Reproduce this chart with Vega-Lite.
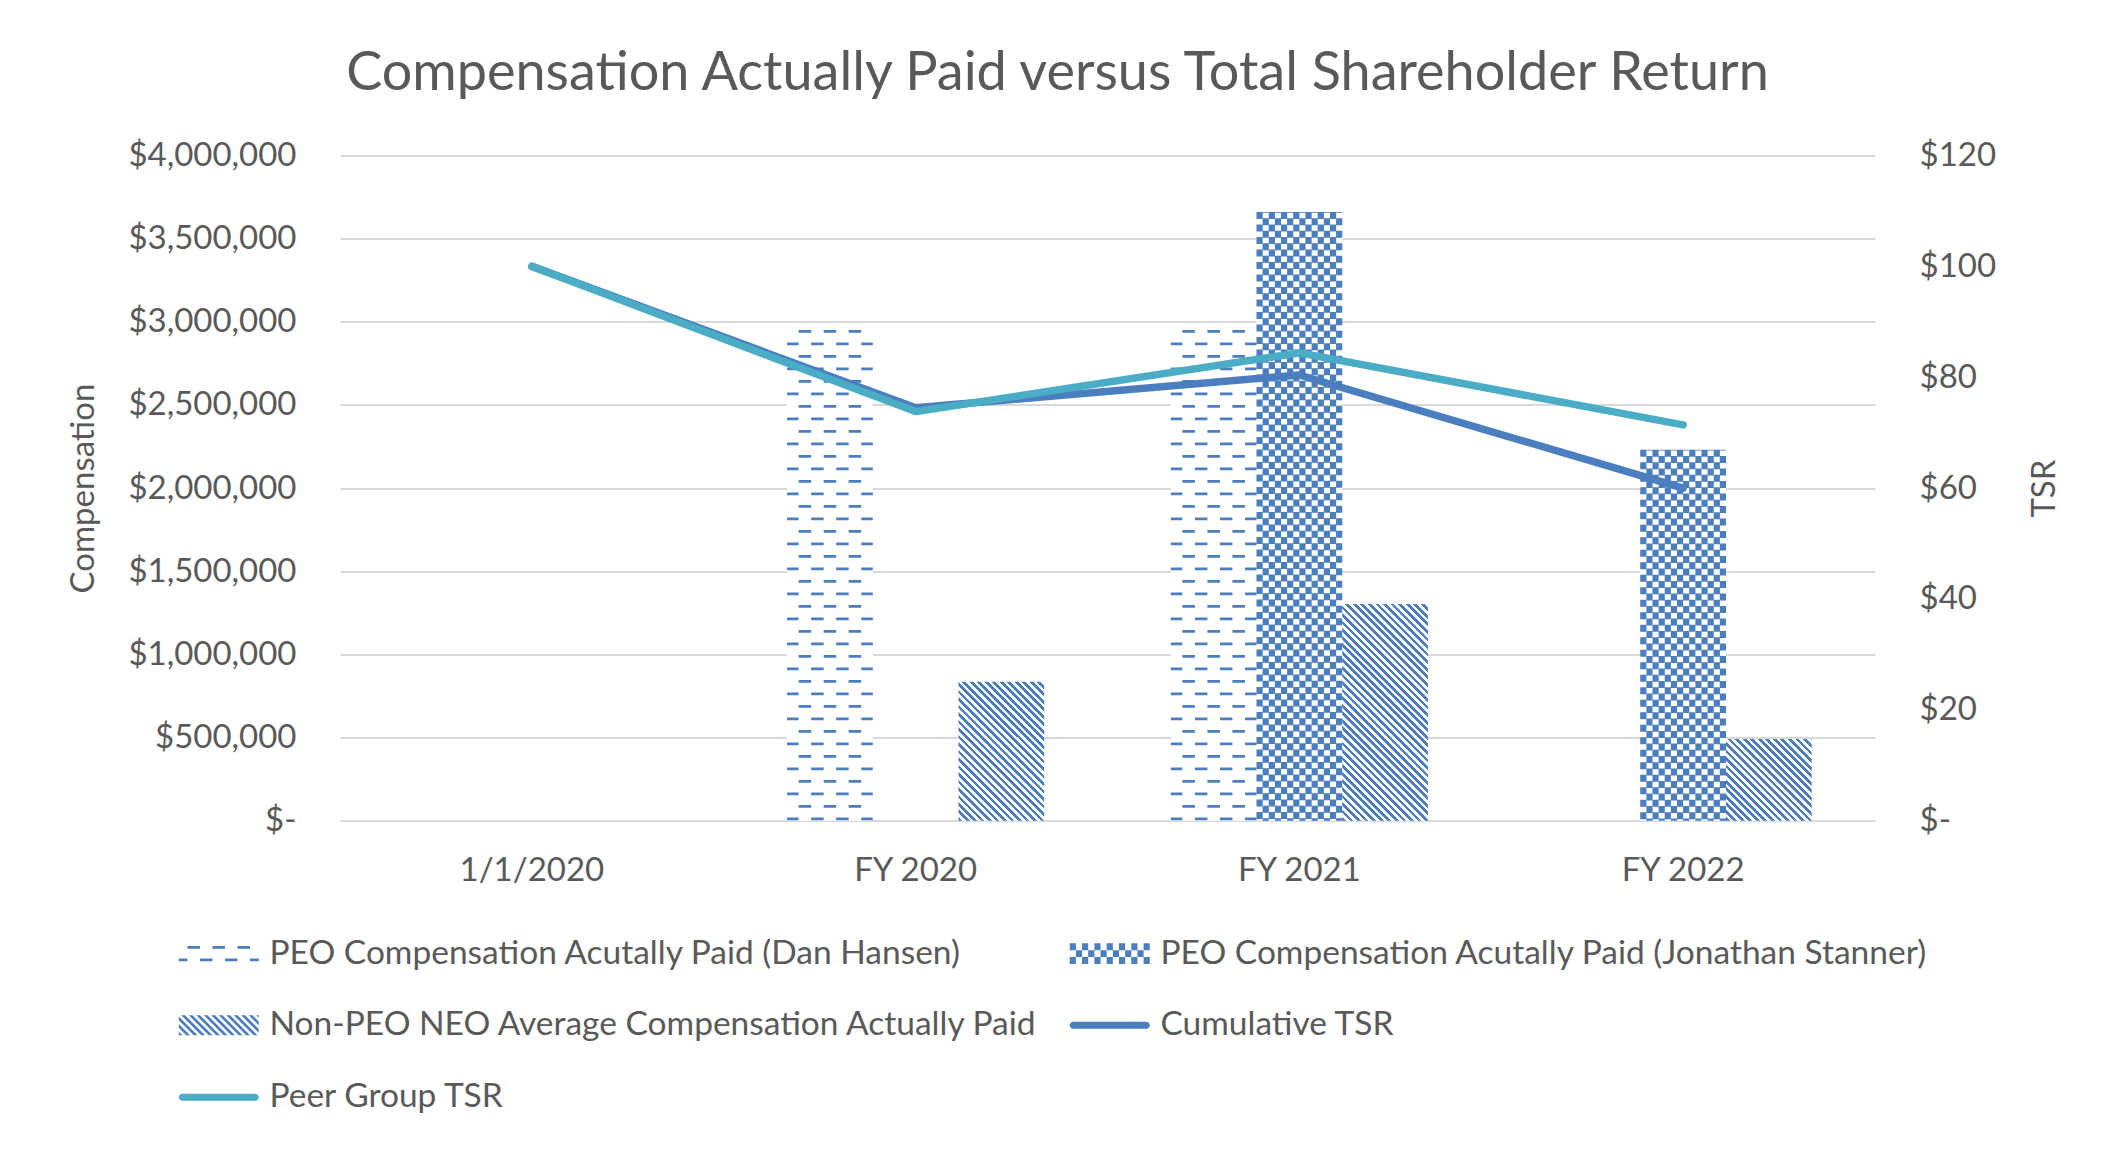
{
"$schema": "https://vega.github.io/schema/vega-lite/v6.json",
"width": 1535, "height": 665.2,
"autosize": {"type": "none"},
"padding": {"left": 340, "top": 155.5, "right": 245, "bottom": 329.3},
"background": "#ffffff",
"config": {
  "view": {"stroke": null},
  "font": "Lato",
  "axis": {"labelFont": "Lato", "labelFontSize": 33, "labelColor": "#595959", "titleFont": "Lato", "titleFontSize": 33, "titleFontWeight": "normal", "titleColor": "#595959", "domain": false, "ticks": false, "grid": false}
},
"title": {"text": "Compensation Actually Paid versus Total Shareholder Return", "font": "Lato", "fontSize": 54, "fontWeight": "normal", "color": "#595959", "anchor": "middle", "dx": -50, "offset": 39},
"datasets": {
  "bars": [
    {"year": "FY 2020", "series": "PEO Compensation Acutally Paid (Dan Hansen)", "comp": 2950000},
    {"year": "FY 2021", "series": "PEO Compensation Acutally Paid (Dan Hansen)", "comp": 2950000},
    {"year": "FY 2021", "series": "PEO Compensation Acutally Paid (Jonathan Stanner)", "comp": 3660000},
    {"year": "FY 2022", "series": "PEO Compensation Acutally Paid (Jonathan Stanner)", "comp": 2230000},
    {"year": "FY 2020", "series": "Non-PEO NEO Average Compensation Actually Paid", "comp": 835000},
    {"year": "FY 2021", "series": "Non-PEO NEO Average Compensation Actually Paid", "comp": 1303000},
    {"year": "FY 2022", "series": "Non-PEO NEO Average Compensation Actually Paid", "comp": 492000}
  ],
  "tsr": [
    {"year": "1/1/2020", "series": "Cumulative TSR", "tsr": 100},
    {"year": "FY 2020", "series": "Cumulative TSR", "tsr": 74.5},
    {"year": "FY 2021", "series": "Cumulative TSR", "tsr": 80.4},
    {"year": "FY 2022", "series": "Cumulative TSR", "tsr": 60},
    {"year": "1/1/2020", "series": "Peer Group TSR", "tsr": 100},
    {"year": "FY 2020", "series": "Peer Group TSR", "tsr": 73.8},
    {"year": "FY 2021", "series": "Peer Group TSR", "tsr": 84.4},
    {"year": "FY 2022", "series": "Peer Group TSR", "tsr": 71.4}
  ]
},
"encoding": {
  "x": {"field": "year", "type": "nominal", "scale": {"domain": ["1/1/2020", "FY 2020", "FY 2021", "FY 2022"], "paddingInner": 0.33, "paddingOuter": 0.165}, "axis": {"orient": "bottom", "title": null, "labelAngle": 0, "labelPadding": 34}}
},
"layer": [
  {
    "data": {"name": "bars"},
    "encoding": {
      "y": {"field": "comp", "type": "quantitative", "scale": {"domain": [0, 4000000], "nice": false}, "axis": {"orient": "left", "values": [0, 500000, 1000000, 1500000, 2000000, 2500000, 3000000, 3500000, 4000000], "labelExpr": "datum.value == 0 ? '$-' : '$' + format(datum.value, ',')", "grid": true, "gridColor": "#d9d9d9", "gridWidth": 2, "labelPadding": 44, "title": "Compensation", "titlePadding": 40}}
    },
    "layer": [
      {"mark": {"type": "bar", "fill": "#ffffff"}, "encoding": {"xOffset": {"field": "series", "type": "nominal", "scale": {"domain": ["PEO Compensation Acutally Paid (Dan Hansen)", "PEO Compensation Acutally Paid (Jonathan Stanner)", "Non-PEO NEO Average Compensation Actually Paid"], "paddingInner": 0, "paddingOuter": 0}}}},
      {
        "transform": [{"filter": {"field": "series", "equal": "PEO Compensation Acutally Paid (Dan Hansen)"}}],
        "encoding": {"y2": {"datum": 0}},
        "layer": [
          {"mark": {"type": "rule", "color": "#4a7ebf", "strokeWidth": 12.5, "strokeDash": [2.7, 22.3]}, "encoding": {"x": {"field": "year", "type": "nominal", "bandPosition": 0.06943}}},
          {"mark": {"type": "rule", "color": "#4a7ebf", "strokeWidth": 12.5, "strokeDash": [2.7, 22.3]}, "encoding": {"x": {"field": "year", "type": "nominal", "bandPosition": 0.16667}}},
          {"mark": {"type": "rule", "color": "#4a7ebf", "strokeWidth": 12.5, "strokeDash": [2.7, 22.3]}, "encoding": {"x": {"field": "year", "type": "nominal", "bandPosition": 0.2639}}},
          {"mark": {"type": "rule", "color": "#4a7ebf", "strokeWidth": 11.5, "strokeDash": [2.7, 22.3], "strokeDashOffset": 12.5}, "encoding": {"x": {"field": "year", "type": "nominal", "bandPosition": 0.02236}}},
          {"mark": {"type": "rule", "color": "#4a7ebf", "strokeWidth": 12.5, "strokeDash": [2.7, 22.3], "strokeDashOffset": 12.5}, "encoding": {"x": {"field": "year", "type": "nominal", "bandPosition": 0.11805}}},
          {"mark": {"type": "rule", "color": "#4a7ebf", "strokeWidth": 12.5, "strokeDash": [2.7, 22.3], "strokeDashOffset": 12.5}, "encoding": {"x": {"field": "year", "type": "nominal", "bandPosition": 0.21529}}},
          {"mark": {"type": "rule", "color": "#4a7ebf", "strokeWidth": 11.5, "strokeDash": [2.7, 22.3], "strokeDashOffset": 12.5}, "encoding": {"x": {"field": "year", "type": "nominal", "bandPosition": 0.31097}}}
        ]
      },
      {
        "transform": [{"filter": {"field": "series", "equal": "PEO Compensation Acutally Paid (Jonathan Stanner)"}}],
        "encoding": {"y2": {"datum": 0}},
        "layer": [
          {"mark": {"type": "rule", "color": "#4a7ebf", "strokeWidth": 6.2, "strokeDash": [7, 5.5]}, "encoding": {"x": {"field": "year", "type": "nominal", "bandPosition": 0.34524}}},
          {"mark": {"type": "rule", "color": "#4a7ebf", "strokeWidth": 6.2, "strokeDash": [7, 5.5], "strokeDashOffset": 6.25}, "encoding": {"x": {"field": "year", "type": "nominal", "bandPosition": 0.36905}}},
          {"mark": {"type": "rule", "color": "#4a7ebf", "strokeWidth": 6.2, "strokeDash": [7, 5.5]}, "encoding": {"x": {"field": "year", "type": "nominal", "bandPosition": 0.39286}}},
          {"mark": {"type": "rule", "color": "#4a7ebf", "strokeWidth": 6.2, "strokeDash": [7, 5.5], "strokeDashOffset": 6.25}, "encoding": {"x": {"field": "year", "type": "nominal", "bandPosition": 0.41667}}},
          {"mark": {"type": "rule", "color": "#4a7ebf", "strokeWidth": 6.2, "strokeDash": [7, 5.5]}, "encoding": {"x": {"field": "year", "type": "nominal", "bandPosition": 0.44048}}},
          {"mark": {"type": "rule", "color": "#4a7ebf", "strokeWidth": 6.2, "strokeDash": [7, 5.5], "strokeDashOffset": 6.25}, "encoding": {"x": {"field": "year", "type": "nominal", "bandPosition": 0.46429}}},
          {"mark": {"type": "rule", "color": "#4a7ebf", "strokeWidth": 6.2, "strokeDash": [7, 5.5]}, "encoding": {"x": {"field": "year", "type": "nominal", "bandPosition": 0.4881}}},
          {"mark": {"type": "rule", "color": "#4a7ebf", "strokeWidth": 6.2, "strokeDash": [7, 5.5], "strokeDashOffset": 6.25}, "encoding": {"x": {"field": "year", "type": "nominal", "bandPosition": 0.5119}}},
          {"mark": {"type": "rule", "color": "#4a7ebf", "strokeWidth": 6.2, "strokeDash": [7, 5.5]}, "encoding": {"x": {"field": "year", "type": "nominal", "bandPosition": 0.53571}}},
          {"mark": {"type": "rule", "color": "#4a7ebf", "strokeWidth": 6.2, "strokeDash": [7, 5.5], "strokeDashOffset": 6.25}, "encoding": {"x": {"field": "year", "type": "nominal", "bandPosition": 0.55952}}},
          {"mark": {"type": "rule", "color": "#4a7ebf", "strokeWidth": 6.2, "strokeDash": [7, 5.5]}, "encoding": {"x": {"field": "year", "type": "nominal", "bandPosition": 0.58333}}},
          {"mark": {"type": "rule", "color": "#4a7ebf", "strokeWidth": 6.2, "strokeDash": [7, 5.5], "strokeDashOffset": 6.25}, "encoding": {"x": {"field": "year", "type": "nominal", "bandPosition": 0.60714}}},
          {"mark": {"type": "rule", "color": "#4a7ebf", "strokeWidth": 6.2, "strokeDash": [7, 5.5]}, "encoding": {"x": {"field": "year", "type": "nominal", "bandPosition": 0.63095}}},
          {"mark": {"type": "rule", "color": "#4a7ebf", "strokeWidth": 6.2, "strokeDash": [7, 5.5], "strokeDashOffset": 6.25}, "encoding": {"x": {"field": "year", "type": "nominal", "bandPosition": 0.65476}}}
        ]
      },
      {
        "transform": [{"filter": {"field": "series", "equal": "Non-PEO NEO Average Compensation Actually Paid"}}, {"filter": {"field": "year", "equal": "FY 2020"}}],
        "mark": {"type": "bar", "fill": {"gradient": "linear", "x1": 0, "y1": 1, "x2": 0.7226, "y2": -0.1712, "stops": [
          {"offset":0,"color":"#4a7ebf"},
          {"offset":0.0167,"color":"#4a7ebf"},{"offset":0.0167,"color":"#fff"},
          {"offset":0.0333,"color":"#fff"},{"offset":0.0333,"color":"#4a7ebf"},
          {"offset":0.05,"color":"#4a7ebf"},{"offset":0.05,"color":"#fff"},
          {"offset":0.0667,"color":"#fff"},{"offset":0.0667,"color":"#4a7ebf"},
          {"offset":0.0833,"color":"#4a7ebf"},{"offset":0.0833,"color":"#fff"},
          {"offset":0.1,"color":"#fff"},{"offset":0.1,"color":"#4a7ebf"},
          {"offset":0.1167,"color":"#4a7ebf"},{"offset":0.1167,"color":"#fff"},
          {"offset":0.1333,"color":"#fff"},{"offset":0.1333,"color":"#4a7ebf"},
          {"offset":0.15,"color":"#4a7ebf"},{"offset":0.15,"color":"#fff"},
          {"offset":0.1667,"color":"#fff"},{"offset":0.1667,"color":"#4a7ebf"},
          {"offset":0.1833,"color":"#4a7ebf"},{"offset":0.1833,"color":"#fff"},
          {"offset":0.2,"color":"#fff"},{"offset":0.2,"color":"#4a7ebf"},
          {"offset":0.2167,"color":"#4a7ebf"},{"offset":0.2167,"color":"#fff"},
          {"offset":0.2333,"color":"#fff"},{"offset":0.2333,"color":"#4a7ebf"},
          {"offset":0.25,"color":"#4a7ebf"},{"offset":0.25,"color":"#fff"},
          {"offset":0.2667,"color":"#fff"},{"offset":0.2667,"color":"#4a7ebf"},
          {"offset":0.2833,"color":"#4a7ebf"},{"offset":0.2833,"color":"#fff"},
          {"offset":0.3,"color":"#fff"},{"offset":0.3,"color":"#4a7ebf"},
          {"offset":0.3167,"color":"#4a7ebf"},{"offset":0.3167,"color":"#fff"},
          {"offset":0.3333,"color":"#fff"},{"offset":0.3333,"color":"#4a7ebf"},
          {"offset":0.35,"color":"#4a7ebf"},{"offset":0.35,"color":"#fff"},
          {"offset":0.3667,"color":"#fff"},{"offset":0.3667,"color":"#4a7ebf"},
          {"offset":0.3833,"color":"#4a7ebf"},{"offset":0.3833,"color":"#fff"},
          {"offset":0.4,"color":"#fff"},{"offset":0.4,"color":"#4a7ebf"},
          {"offset":0.4167,"color":"#4a7ebf"},{"offset":0.4167,"color":"#fff"},
          {"offset":0.4333,"color":"#fff"},{"offset":0.4333,"color":"#4a7ebf"},
          {"offset":0.45,"color":"#4a7ebf"},{"offset":0.45,"color":"#fff"},
          {"offset":0.4667,"color":"#fff"},{"offset":0.4667,"color":"#4a7ebf"},
          {"offset":0.4833,"color":"#4a7ebf"},{"offset":0.4833,"color":"#fff"},
          {"offset":0.5,"color":"#fff"},{"offset":0.5,"color":"#4a7ebf"},
          {"offset":0.5167,"color":"#4a7ebf"},{"offset":0.5167,"color":"#fff"},
          {"offset":0.5333,"color":"#fff"},{"offset":0.5333,"color":"#4a7ebf"},
          {"offset":0.55,"color":"#4a7ebf"},{"offset":0.55,"color":"#fff"},
          {"offset":0.5667,"color":"#fff"},{"offset":0.5667,"color":"#4a7ebf"},
          {"offset":0.5833,"color":"#4a7ebf"},{"offset":0.5833,"color":"#fff"},
          {"offset":0.6,"color":"#fff"},{"offset":0.6,"color":"#4a7ebf"},
          {"offset":0.6167,"color":"#4a7ebf"},{"offset":0.6167,"color":"#fff"},
          {"offset":0.6333,"color":"#fff"},{"offset":0.6333,"color":"#4a7ebf"},
          {"offset":0.65,"color":"#4a7ebf"},{"offset":0.65,"color":"#fff"},
          {"offset":0.6667,"color":"#fff"},{"offset":0.6667,"color":"#4a7ebf"},
          {"offset":0.6833,"color":"#4a7ebf"},{"offset":0.6833,"color":"#fff"},
          {"offset":0.7,"color":"#fff"},{"offset":0.7,"color":"#4a7ebf"},
          {"offset":0.7167,"color":"#4a7ebf"},{"offset":0.7167,"color":"#fff"},
          {"offset":0.7333,"color":"#fff"},{"offset":0.7333,"color":"#4a7ebf"},
          {"offset":0.75,"color":"#4a7ebf"},{"offset":0.75,"color":"#fff"},
          {"offset":0.7667,"color":"#fff"},{"offset":0.7667,"color":"#4a7ebf"},
          {"offset":0.7833,"color":"#4a7ebf"},{"offset":0.7833,"color":"#fff"},
          {"offset":0.8,"color":"#fff"},{"offset":0.8,"color":"#4a7ebf"},
          {"offset":0.8167,"color":"#4a7ebf"},{"offset":0.8167,"color":"#fff"},
          {"offset":0.8333,"color":"#fff"},{"offset":0.8333,"color":"#4a7ebf"},
          {"offset":0.85,"color":"#4a7ebf"},{"offset":0.85,"color":"#fff"},
          {"offset":0.8667,"color":"#fff"},{"offset":0.8667,"color":"#4a7ebf"},
          {"offset":0.8833,"color":"#4a7ebf"},{"offset":0.8833,"color":"#fff"},
          {"offset":0.9,"color":"#fff"},{"offset":0.9,"color":"#4a7ebf"},
          {"offset":0.9167,"color":"#4a7ebf"},{"offset":0.9167,"color":"#fff"},
          {"offset":0.9333,"color":"#fff"},{"offset":0.9333,"color":"#4a7ebf"},
          {"offset":0.95,"color":"#4a7ebf"},{"offset":0.95,"color":"#fff"},
          {"offset":0.9667,"color":"#fff"},{"offset":0.9667,"color":"#4a7ebf"},
          {"offset":0.9833,"color":"#4a7ebf"},{"offset":0.9833,"color":"#fff"},
          {"offset":1,"color":"#fff"}
        ]}},
        "encoding": {"xOffset": {"field": "series", "type": "nominal", "scale": {"domain": ["PEO Compensation Acutally Paid (Dan Hansen)", "PEO Compensation Acutally Paid (Jonathan Stanner)", "Non-PEO NEO Average Compensation Actually Paid"], "paddingInner": 0, "paddingOuter": 0}}}
      },
      {
        "transform": [{"filter": {"field": "series", "equal": "Non-PEO NEO Average Compensation Actually Paid"}}, {"filter": {"field": "year", "equal": "FY 2021"}}],
        "mark": {"type": "bar", "fill": {"gradient": "linear", "x1": 0, "y1": 1, "x2": 0.4772, "y2": -0.2068, "stops": [
          {"offset":0,"color":"#4a7ebf"},
          {"offset":0.0125,"color":"#4a7ebf"},{"offset":0.0125,"color":"#fff"},
          {"offset":0.025,"color":"#fff"},{"offset":0.025,"color":"#4a7ebf"},
          {"offset":0.0375,"color":"#4a7ebf"},{"offset":0.0375,"color":"#fff"},
          {"offset":0.05,"color":"#fff"},{"offset":0.05,"color":"#4a7ebf"},
          {"offset":0.0625,"color":"#4a7ebf"},{"offset":0.0625,"color":"#fff"},
          {"offset":0.075,"color":"#fff"},{"offset":0.075,"color":"#4a7ebf"},
          {"offset":0.0875,"color":"#4a7ebf"},{"offset":0.0875,"color":"#fff"},
          {"offset":0.1,"color":"#fff"},{"offset":0.1,"color":"#4a7ebf"},
          {"offset":0.1125,"color":"#4a7ebf"},{"offset":0.1125,"color":"#fff"},
          {"offset":0.125,"color":"#fff"},{"offset":0.125,"color":"#4a7ebf"},
          {"offset":0.1375,"color":"#4a7ebf"},{"offset":0.1375,"color":"#fff"},
          {"offset":0.15,"color":"#fff"},{"offset":0.15,"color":"#4a7ebf"},
          {"offset":0.1625,"color":"#4a7ebf"},{"offset":0.1625,"color":"#fff"},
          {"offset":0.175,"color":"#fff"},{"offset":0.175,"color":"#4a7ebf"},
          {"offset":0.1875,"color":"#4a7ebf"},{"offset":0.1875,"color":"#fff"},
          {"offset":0.2,"color":"#fff"},{"offset":0.2,"color":"#4a7ebf"},
          {"offset":0.2125,"color":"#4a7ebf"},{"offset":0.2125,"color":"#fff"},
          {"offset":0.225,"color":"#fff"},{"offset":0.225,"color":"#4a7ebf"},
          {"offset":0.2375,"color":"#4a7ebf"},{"offset":0.2375,"color":"#fff"},
          {"offset":0.25,"color":"#fff"},{"offset":0.25,"color":"#4a7ebf"},
          {"offset":0.2625,"color":"#4a7ebf"},{"offset":0.2625,"color":"#fff"},
          {"offset":0.275,"color":"#fff"},{"offset":0.275,"color":"#4a7ebf"},
          {"offset":0.2875,"color":"#4a7ebf"},{"offset":0.2875,"color":"#fff"},
          {"offset":0.3,"color":"#fff"},{"offset":0.3,"color":"#4a7ebf"},
          {"offset":0.3125,"color":"#4a7ebf"},{"offset":0.3125,"color":"#fff"},
          {"offset":0.325,"color":"#fff"},{"offset":0.325,"color":"#4a7ebf"},
          {"offset":0.3375,"color":"#4a7ebf"},{"offset":0.3375,"color":"#fff"},
          {"offset":0.35,"color":"#fff"},{"offset":0.35,"color":"#4a7ebf"},
          {"offset":0.3625,"color":"#4a7ebf"},{"offset":0.3625,"color":"#fff"},
          {"offset":0.375,"color":"#fff"},{"offset":0.375,"color":"#4a7ebf"},
          {"offset":0.3875,"color":"#4a7ebf"},{"offset":0.3875,"color":"#fff"},
          {"offset":0.4,"color":"#fff"},{"offset":0.4,"color":"#4a7ebf"},
          {"offset":0.4125,"color":"#4a7ebf"},{"offset":0.4125,"color":"#fff"},
          {"offset":0.425,"color":"#fff"},{"offset":0.425,"color":"#4a7ebf"},
          {"offset":0.4375,"color":"#4a7ebf"},{"offset":0.4375,"color":"#fff"},
          {"offset":0.45,"color":"#fff"},{"offset":0.45,"color":"#4a7ebf"},
          {"offset":0.4625,"color":"#4a7ebf"},{"offset":0.4625,"color":"#fff"},
          {"offset":0.475,"color":"#fff"},{"offset":0.475,"color":"#4a7ebf"},
          {"offset":0.4875,"color":"#4a7ebf"},{"offset":0.4875,"color":"#fff"},
          {"offset":0.5,"color":"#fff"},{"offset":0.5,"color":"#4a7ebf"},
          {"offset":0.5125,"color":"#4a7ebf"},{"offset":0.5125,"color":"#fff"},
          {"offset":0.525,"color":"#fff"},{"offset":0.525,"color":"#4a7ebf"},
          {"offset":0.5375,"color":"#4a7ebf"},{"offset":0.5375,"color":"#fff"},
          {"offset":0.55,"color":"#fff"},{"offset":0.55,"color":"#4a7ebf"},
          {"offset":0.5625,"color":"#4a7ebf"},{"offset":0.5625,"color":"#fff"},
          {"offset":0.575,"color":"#fff"},{"offset":0.575,"color":"#4a7ebf"},
          {"offset":0.5875,"color":"#4a7ebf"},{"offset":0.5875,"color":"#fff"},
          {"offset":0.6,"color":"#fff"},{"offset":0.6,"color":"#4a7ebf"},
          {"offset":0.6125,"color":"#4a7ebf"},{"offset":0.6125,"color":"#fff"},
          {"offset":0.625,"color":"#fff"},{"offset":0.625,"color":"#4a7ebf"},
          {"offset":0.6375,"color":"#4a7ebf"},{"offset":0.6375,"color":"#fff"},
          {"offset":0.65,"color":"#fff"},{"offset":0.65,"color":"#4a7ebf"},
          {"offset":0.6625,"color":"#4a7ebf"},{"offset":0.6625,"color":"#fff"},
          {"offset":0.675,"color":"#fff"},{"offset":0.675,"color":"#4a7ebf"},
          {"offset":0.6875,"color":"#4a7ebf"},{"offset":0.6875,"color":"#fff"},
          {"offset":0.7,"color":"#fff"},{"offset":0.7,"color":"#4a7ebf"},
          {"offset":0.7125,"color":"#4a7ebf"},{"offset":0.7125,"color":"#fff"},
          {"offset":0.725,"color":"#fff"},{"offset":0.725,"color":"#4a7ebf"},
          {"offset":0.7375,"color":"#4a7ebf"},{"offset":0.7375,"color":"#fff"},
          {"offset":0.75,"color":"#fff"},{"offset":0.75,"color":"#4a7ebf"},
          {"offset":0.7625,"color":"#4a7ebf"},{"offset":0.7625,"color":"#fff"},
          {"offset":0.775,"color":"#fff"},{"offset":0.775,"color":"#4a7ebf"},
          {"offset":0.7875,"color":"#4a7ebf"},{"offset":0.7875,"color":"#fff"},
          {"offset":0.8,"color":"#fff"},{"offset":0.8,"color":"#4a7ebf"},
          {"offset":0.8125,"color":"#4a7ebf"},{"offset":0.8125,"color":"#fff"},
          {"offset":0.825,"color":"#fff"},{"offset":0.825,"color":"#4a7ebf"},
          {"offset":0.8375,"color":"#4a7ebf"},{"offset":0.8375,"color":"#fff"},
          {"offset":0.85,"color":"#fff"},{"offset":0.85,"color":"#4a7ebf"},
          {"offset":0.8625,"color":"#4a7ebf"},{"offset":0.8625,"color":"#fff"},
          {"offset":0.875,"color":"#fff"},{"offset":0.875,"color":"#4a7ebf"},
          {"offset":0.8875,"color":"#4a7ebf"},{"offset":0.8875,"color":"#fff"},
          {"offset":0.9,"color":"#fff"},{"offset":0.9,"color":"#4a7ebf"},
          {"offset":0.9125,"color":"#4a7ebf"},{"offset":0.9125,"color":"#fff"},
          {"offset":0.925,"color":"#fff"},{"offset":0.925,"color":"#4a7ebf"},
          {"offset":0.9375,"color":"#4a7ebf"},{"offset":0.9375,"color":"#fff"},
          {"offset":0.95,"color":"#fff"},{"offset":0.95,"color":"#4a7ebf"},
          {"offset":0.9625,"color":"#4a7ebf"},{"offset":0.9625,"color":"#fff"},
          {"offset":0.975,"color":"#fff"},{"offset":0.975,"color":"#4a7ebf"},
          {"offset":0.9875,"color":"#4a7ebf"},{"offset":0.9875,"color":"#fff"},
          {"offset":1,"color":"#fff"}
        ]}},
        "encoding": {"xOffset": {"field": "series", "type": "nominal", "scale": {"domain": ["PEO Compensation Acutally Paid (Dan Hansen)", "PEO Compensation Acutally Paid (Jonathan Stanner)", "Non-PEO NEO Average Compensation Actually Paid"], "paddingInner": 0, "paddingOuter": 0}}}
      },
      {
        "transform": [{"filter": {"field": "series", "equal": "Non-PEO NEO Average Compensation Actually Paid"}}, {"filter": {"field": "year", "equal": "FY 2022"}}],
        "mark": {"type": "bar", "fill": {"gradient": "linear", "x1": 0, "y1": 1, "x2": 1.0227, "y2": 0.0238, "stops": [
          {"offset":0,"color":"#4a7ebf"},
          {"offset":0.0225,"color":"#4a7ebf"},{"offset":0.0225,"color":"#fff"},
          {"offset":0.045,"color":"#fff"},{"offset":0.045,"color":"#4a7ebf"},
          {"offset":0.0675,"color":"#4a7ebf"},{"offset":0.0675,"color":"#fff"},
          {"offset":0.09,"color":"#fff"},{"offset":0.09,"color":"#4a7ebf"},
          {"offset":0.1125,"color":"#4a7ebf"},{"offset":0.1125,"color":"#fff"},
          {"offset":0.135,"color":"#fff"},{"offset":0.135,"color":"#4a7ebf"},
          {"offset":0.1575,"color":"#4a7ebf"},{"offset":0.1575,"color":"#fff"},
          {"offset":0.18,"color":"#fff"},{"offset":0.18,"color":"#4a7ebf"},
          {"offset":0.2025,"color":"#4a7ebf"},{"offset":0.2025,"color":"#fff"},
          {"offset":0.225,"color":"#fff"},{"offset":0.225,"color":"#4a7ebf"},
          {"offset":0.2475,"color":"#4a7ebf"},{"offset":0.2475,"color":"#fff"},
          {"offset":0.27,"color":"#fff"},{"offset":0.27,"color":"#4a7ebf"},
          {"offset":0.2925,"color":"#4a7ebf"},{"offset":0.2925,"color":"#fff"},
          {"offset":0.315,"color":"#fff"},{"offset":0.315,"color":"#4a7ebf"},
          {"offset":0.3375,"color":"#4a7ebf"},{"offset":0.3375,"color":"#fff"},
          {"offset":0.36,"color":"#fff"},{"offset":0.36,"color":"#4a7ebf"},
          {"offset":0.3825,"color":"#4a7ebf"},{"offset":0.3825,"color":"#fff"},
          {"offset":0.405,"color":"#fff"},{"offset":0.405,"color":"#4a7ebf"},
          {"offset":0.4275,"color":"#4a7ebf"},{"offset":0.4275,"color":"#fff"},
          {"offset":0.45,"color":"#fff"},{"offset":0.45,"color":"#4a7ebf"},
          {"offset":0.4725,"color":"#4a7ebf"},{"offset":0.4725,"color":"#fff"},
          {"offset":0.495,"color":"#fff"},{"offset":0.495,"color":"#4a7ebf"},
          {"offset":0.5175,"color":"#4a7ebf"},{"offset":0.5175,"color":"#fff"},
          {"offset":0.54,"color":"#fff"},{"offset":0.54,"color":"#4a7ebf"},
          {"offset":0.5625,"color":"#4a7ebf"},{"offset":0.5625,"color":"#fff"},
          {"offset":0.585,"color":"#fff"},{"offset":0.585,"color":"#4a7ebf"},
          {"offset":0.6075,"color":"#4a7ebf"},{"offset":0.6075,"color":"#fff"},
          {"offset":0.63,"color":"#fff"},{"offset":0.63,"color":"#4a7ebf"},
          {"offset":0.6525,"color":"#4a7ebf"},{"offset":0.6525,"color":"#fff"},
          {"offset":0.675,"color":"#fff"},{"offset":0.675,"color":"#4a7ebf"},
          {"offset":0.6975,"color":"#4a7ebf"},{"offset":0.6975,"color":"#fff"},
          {"offset":0.72,"color":"#fff"},{"offset":0.72,"color":"#4a7ebf"},
          {"offset":0.7425,"color":"#4a7ebf"},{"offset":0.7425,"color":"#fff"},
          {"offset":0.765,"color":"#fff"},{"offset":0.765,"color":"#4a7ebf"},
          {"offset":0.7875,"color":"#4a7ebf"},{"offset":0.7875,"color":"#fff"},
          {"offset":0.81,"color":"#fff"},{"offset":0.81,"color":"#4a7ebf"},
          {"offset":0.8325,"color":"#4a7ebf"},{"offset":0.8325,"color":"#fff"},
          {"offset":0.855,"color":"#fff"},{"offset":0.855,"color":"#4a7ebf"},
          {"offset":0.8775,"color":"#4a7ebf"},{"offset":0.8775,"color":"#fff"},
          {"offset":0.9,"color":"#fff"},{"offset":0.9,"color":"#4a7ebf"},
          {"offset":0.9225,"color":"#4a7ebf"},{"offset":0.9225,"color":"#fff"},
          {"offset":0.945,"color":"#fff"},{"offset":0.945,"color":"#4a7ebf"},
          {"offset":0.9675,"color":"#4a7ebf"},{"offset":0.9675,"color":"#fff"},
          {"offset":0.99,"color":"#fff"},{"offset":0.99,"color":"#4a7ebf"},
          {"offset":1,"color":"#4a7ebf"}
        ]}},
        "encoding": {"xOffset": {"field": "series", "type": "nominal", "scale": {"domain": ["PEO Compensation Acutally Paid (Dan Hansen)", "PEO Compensation Acutally Paid (Jonathan Stanner)", "Non-PEO NEO Average Compensation Actually Paid"], "paddingInner": 0, "paddingOuter": 0}}}
      }
    ]
  },
  {
    "data": {"name": "tsr"},
    "encoding": {
      "y": {"field": "tsr", "type": "quantitative", "scale": {"domain": [0, 120], "nice": false}, "axis": {"orient": "right", "values": [0, 20, 40, 60, 80, 100, 120], "labelExpr": "datum.value == 0 ? '$-' : '$' + datum.value", "labelPadding": 44, "title": "TSR", "titleAngle": 270, "titlePadding": 66}}
    },
    "layer": [
      {"transform": [{"filter": {"field": "series", "equal": "Cumulative TSR"}}], "mark": {"type": "line", "color": "#4a7ebf", "strokeWidth": 7.5, "strokeCap": "round", "strokeJoin": "round"}, "encoding": {}},
      {"transform": [{"filter": {"field": "series", "equal": "Peer Group TSR"}}], "mark": {"type": "line", "color": "#4bacc6", "strokeWidth": 7.5, "strokeCap": "round", "strokeJoin": "round"}, "encoding": {}},
      {
        "transform": [{"filter": "datum.tsr < 0"}],
        "mark": {"type": "point", "filled": true, "size": 400, "opacity": 1},
        "encoding": {
          "color": {"field": "series", "type": "nominal",
            "scale": {"domain": ["PEO Compensation Acutally Paid (Dan Hansen)", "PEO Compensation Acutally Paid (Jonathan Stanner)", "Non-PEO NEO Average Compensation Actually Paid", "Cumulative TSR", "Peer Group TSR"], "range": ["#4a7ebf", "#4a7ebf", "#4a7ebf", "#4a7ebf", "#4bacc6"]},
            "legend": {"orient": "none", "direction": "horizontal", "legendX": -162, "legendY": 781, "columns": 2, "title": null, "symbolSize": 400, "symbolStrokeWidth": 0, "symbolOpacity": 1, "labelFont": "Lato", "labelFontSize": 33.5, "labelColor": "#595959", "labelLimit": 0, "rowPadding": 37, "columnPadding": 30, "symbolOffset": 24, "labelOffset": 34, "padding": 0}},
          "shape": {"field": "series", "type": "nominal",
            "scale": {"domain": ["PEO Compensation Acutally Paid (Dan Hansen)", "PEO Compensation Acutally Paid (Jonathan Stanner)", "Non-PEO NEO Average Compensation Actually Paid", "Cumulative TSR", "Peer Group TSR"], "range": [
              "M-3.125,-0.755H-1.875V-0.485H-3.125ZM-0.625,-0.755H0.625V-0.485H-0.625ZM1.875,-0.755H3.125V-0.485H1.875ZM-4,0.485H-3.125V0.755H-4ZM-1.875,0.485H-0.625V0.755H-1.875ZM0.625,0.485H1.875V0.755H0.625ZM3.125,0.485H4V0.755H3.125Z",
              "M-4,-1.03H-3.385V-0.343H-4ZM-2.769,-1.03H-2.154V-0.343H-2.769ZM-1.538,-1.03H-0.923V-0.343H-1.538ZM-0.308,-1.03H0.308V-0.343H-0.308ZM0.923,-1.03H1.538V-0.343H0.923ZM2.154,-1.03H2.769V-0.343H2.154ZM3.385,-1.03H4V-0.343H3.385ZM-3.385,-0.343H-2.769V0.343H-3.385ZM-2.154,-0.343H-1.538V0.343H-2.154ZM-0.923,-0.343H-0.308V0.343H-0.923ZM0.308,-0.343H0.923V0.343H0.308ZM1.538,-0.343H2.154V0.343H1.538ZM2.769,-0.343H3.385V0.343H2.769ZM-4,0.343H-3.385V1.03H-4ZM-2.769,0.343H-2.154V1.03H-2.769ZM-1.538,0.343H-0.923V1.03H-1.538ZM-0.308,0.343H0.308V1.03H-0.308ZM0.923,0.343H1.538V1.03H0.923ZM2.154,0.343H2.769V1.03H2.154ZM3.385,0.343H4V1.03H3.385Z",
              "M-4,1L-4,0.625L-3.625,1ZM-4,0.25L-4,-0.125L-2.875,1L-3.25,1ZM-4,-0.5L-4,-0.875L-2.125,1L-2.5,1ZM-3.75,-1L-3.375,-1L-1.375,1L-1.75,1ZM-3,-1L-2.625,-1L-0.625,1L-1,1ZM-2.25,-1L-1.875,-1L0.125,1L-0.25,1ZM-1.5,-1L-1.125,-1L0.875,1L0.5,1ZM-0.75,-1L-0.375,-1L1.625,1L1.25,1ZM0,-1L0.375,-1L2.375,1L2,1ZM0.75,-1L1.125,-1L3.125,1L2.75,1ZM1.5,-1L1.875,-1L3.875,1L3.5,1ZM2.25,-1L2.625,-1L4,0.375L4,0.75ZM3,-1L3.375,-1L4,-0.375L4,0ZM3.75,-1L4,-1L4,-0.75Z",
              "M-3.64,-0.36H3.64A0.36,0.36 0 0 1 3.64,0.36H-3.64A0.36,0.36 0 0 1 -3.64,-0.36Z",
              "M-3.64,-0.36H3.64A0.36,0.36 0 0 1 3.64,0.36H-3.64A0.36,0.36 0 0 1 -3.64,-0.36Z"
            ]},
            "legend": {"orient": "none", "direction": "horizontal", "legendX": -162, "legendY": 781, "columns": 2, "title": null, "symbolSize": 400, "symbolStrokeWidth": 0, "symbolOpacity": 1, "labelFont": "Lato", "labelFontSize": 33.5, "labelColor": "#595959", "labelLimit": 0, "rowPadding": 37, "columnPadding": 30, "symbolOffset": 24, "labelOffset": 34, "padding": 0}}
        }
      }
    ]
  }
],
"resolve": {"scale": {"y": "independent"}}
}
